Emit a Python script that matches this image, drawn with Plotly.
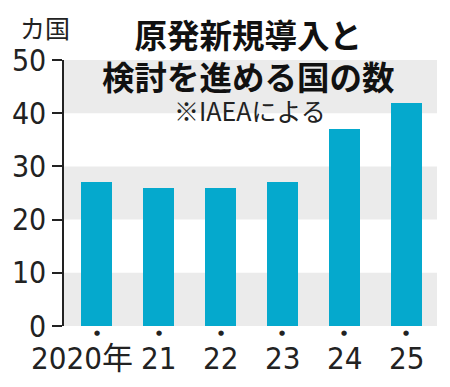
import plotly.graph_objects as go

years = ["2020年", "21", "22", "23", "24", "25"]
counts = [27, 26, 26, 27, 37, 42]
ytick_vals = [0, 10, 20, 30, 40, 50]
ytick_text = ["0", "10", "20", "30", "40", "50"]
band_ranges = [(0, 10), (20, 30), (40, 50)]

xpos = list(range(len(years)))
bar_color = "#05A9CD"
jp_font = "Noto Sans CJK JP"
num_font = "DejaVu Sans Condensed, Liberation Sans Narrow, Roboto Condensed, Roboto"

W, H = 450, 387
ML, MR, MT, MB = 60, 13, 60, 61

def px(x):
    return (x - ML) / (W - ML - MR)
def py(y):
    return (H - MB - y) / (H - MT - MB)

fig = go.Figure()
fig.add_trace(go.Bar(x=xpos, y=counts, width=0.5, marker=dict(color=bar_color, line=dict(width=0)),
                     hoverinfo="skip"))

for y0, y1 in band_ranges:
    fig.add_shape(type="rect", xref="paper", yref="y", x0=0, x1=1, y0=y0, y1=y1,
                  fillcolor="#EBEBEB", line=dict(width=0), layer="below")

for i, lab in enumerate(years):
    fig.add_annotation(x=xpos[i], xref="x", y=py(333), yref="paper", text="●", showarrow=False,
                       xanchor="center", yanchor="middle",
                       font=dict(family="DejaVu Sans", size=7, color="#222222"))
    fig.add_annotation(x=xpos[i], xref="x", y=py(358), yref="paper", text=lab, showarrow=False,
                       xanchor="center", yanchor="middle",
                       xshift=-15 if i == 0 else 0,
                       font=dict(family=num_font + ", " + jp_font, size=31, color="#222222"))

fig.update_layout(
    width=W, height=H,
    margin=dict(l=ML, r=MR, t=MT, b=MB),
    paper_bgcolor="white", plot_bgcolor="white",
    showlegend=False,
    bargap=0,
    xaxis=dict(range=[-0.53, 5.5], showticklabels=False, showgrid=False, zeroline=False,
               showline=False, ticks=""),
    yaxis=dict(range=[0, 50], tickvals=ytick_vals, ticktext=ytick_text, showgrid=False,
               zeroline=False, showline=True, linecolor="#222222", linewidth=1.5,
               ticks="outside", ticklen=10, tickwidth=1.5, tickcolor="#222222",
               tickfont=dict(family=num_font, size=30, color="#222222")),
)

def label(xp, yp, text, size, color="#222222"):
    fig.add_annotation(x=px(xp), y=py(yp), xref="paper", yref="paper", text=text,
                       showarrow=False, xanchor="center", yanchor="middle",
                       font=dict(family=jp_font, size=size, color=color))

label(41, 27, "カ国", 25)
label(246, 55, "<b>原発新規導入と<br>検討を進める国の数</b>", 32.5, "#111111")
label(248, 110, "※IAEAによる", 25)

fig.write_html("out.html")
